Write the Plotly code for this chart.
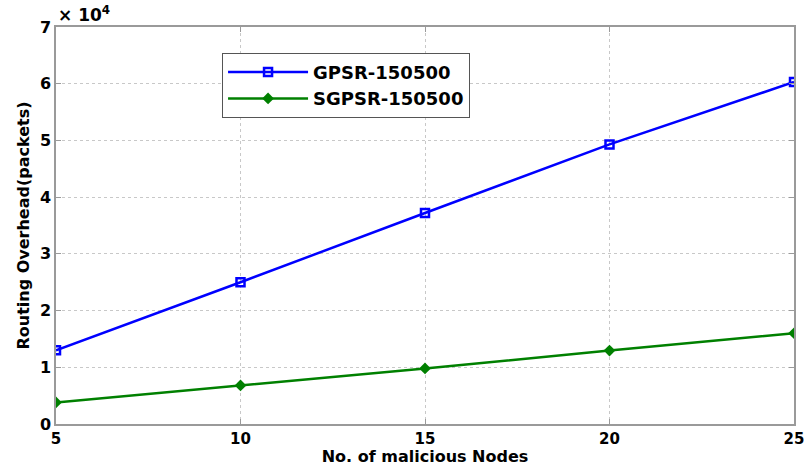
import plotly.graph_objects as go

# Number of malicious nodes and routing overhead in packets
nodes = [5, 10, 15, 20, 25]
gpsr = [13000, 25000, 37200, 49300, 60300]
sgpsr = [3800, 6800, 9800, 12950, 16000]

y_ticks = [0, 10000, 20000, 30000, 40000, 50000, 60000, 70000]
y_tick_text = ["0", "1", "2", "3", "4", "5", "6", "7"]
x_ticks = [5, 10, 15, 20, 25]

font_family = "DejaVu Sans, Arial, sans-serif"

fig = go.Figure()
fig.add_trace(go.Scatter(
    x=nodes, y=gpsr, name="<b>GPSR-150500</b>", mode="lines+markers",
    line=dict(color="#0000FF", width=2.5),
    marker=dict(symbol="square-open", size=8, color="#0000FF", line=dict(width=2.5)),
))
fig.add_trace(go.Scatter(
    x=nodes, y=sgpsr, name="<b>SGPSR-150500</b>", mode="lines+markers",
    line=dict(color="#008000", width=2.5),
    marker=dict(symbol="diamond", size=9, color="#008000"),
))

axis_common = dict(
    showline=True, linecolor="#9a9a9a", linewidth=1.5, mirror="ticks",
    ticks="inside", ticklen=5, tickcolor="#9a9a9a",
    showgrid=True, gridcolor="#c8c8c8", griddash="dot", gridwidth=1,
    zeroline=False, automargin=False,
)

fig.update_xaxes(
    range=[5, 25], tickvals=x_ticks, ticklabelstandoff=0, **axis_common,
    tickfont=dict(family=font_family, size=15, color="black", weight="bold"),
    title=dict(text="<b>No. of malicious Nodes</b>", standoff=4,
               font=dict(family=font_family, size=16, color="black")),
)
fig.update_yaxes(
    range=[0, 70000], tickvals=y_ticks, ticktext=y_tick_text, **axis_common,
    tickfont=dict(family=font_family, size=16, color="black", weight="bold"),
    title=dict(text="<b>Routing Overhead(packets)</b>", standoff=6,
               font=dict(family=font_family, size=16, color="black")),
)

fig.add_annotation(
    text="<b>× 10<sup>4</sup></b>", xref="paper", yref="paper",
    x=0, y=1.0, xanchor="left", yanchor="bottom", showarrow=False, yshift=0,
    font=dict(family=font_family, size=17, color="black"),
)

fig.update_layout(
    width=806, height=466,
    margin=dict(l=56, r=12, t=27, b=42),
    paper_bgcolor="white", plot_bgcolor="white",
    showlegend=True,
    legend=dict(
        x=0.225, y=0.935, xanchor="left", yanchor="top",
        bordercolor="#555555", borderwidth=1, bgcolor="white",
        font=dict(family=font_family, size=18, color="black"),
        itemwidth=80, tracegroupgap=0,
    ),
)

fig.write_html("out.html")
